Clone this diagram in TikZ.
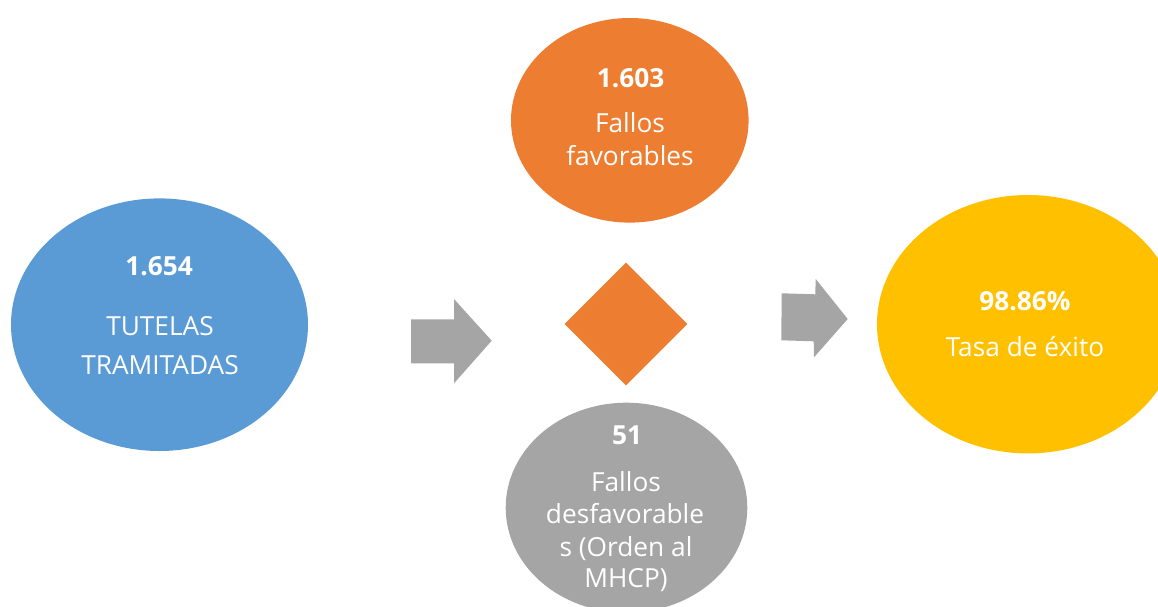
\documentclass[tikz,border=0pt]{standalone}
\usepackage{fontspec}
\setmainfont{Open Sans}
\usetikzlibrary{shapes.geometric}
\definecolor{cblue}{HTML}{5B9BD5}
\definecolor{corange}{HTML}{ED7D31}
\definecolor{cgray}{HTML}{A5A5A5}
\definecolor{cyellow}{HTML}{FFC000}
\tikzset{
  blob/.style={ellipse, inner sep=0pt, draw=none},
  lbl/.style={anchor=base, text=white, inner sep=0pt, font=\fontsize{19.7}{24}\selectfont},
  num/.style={lbl, font=\fontsize{19.7}{24}\selectfont\bfseries},
  blockarrow/.style={fill=cgray, draw=none}
}
\begin{document}
\begin{tikzpicture}[x=0.75pt, y=-0.75pt]
\useasboundingbox (0,0) rectangle (1158,607);
% ellipses
\node[blob, fill=cblue, minimum width=222.75pt, minimum height=189.45pt] (tut) at (159.5,324.7) {};
\node[blob, fill=corange, minimum width=178.2pt, minimum height=153.45pt] (fav) at (629.8,120.3) {};
\node[blob, fill=cgray, minimum width=181.2pt, minimum height=157.5pt] (des) at (626.5,507.7) {};
\node[blob, fill=cyellow, minimum width=226.5pt, minimum height=193.8pt] (tasa) at (1028,324.2) {};
% diamond
\node[diamond, fill=corange, inner sep=0pt, minimum width=92.25pt, minimum height=92.25pt] (dia) at (626,324) {};
% block arrows
\fill[blockarrow] (411,319.3) -- (454,319.3) -- (454,299) -- (491.7,340.7) -- (454,383.3) -- (454,363.3) -- (411,363.3) -- cycle;
\fill[blockarrow] (781.7,293.3) -- (815.3,294.3) -- (815.7,279) -- (847.7,319) -- (814,357.3) -- (813.7,341.3) -- (781.3,340.3) -- cycle;
% texts
\node[num] (t1) at (159,275) {1.654};
\node[lbl] (t2) at (160,335.7) {TUTELAS};
\node[lbl] (t3) at (160,374) {TRAMITADAS};
\node[num] (f1) at (630.5,87.3) {1.603};
\node[lbl] (f2) at (630,132.7) {Fallos};
\node[lbl] (f3) at (630,165) {favorables};
\node[num] (d1) at (627,444) {51};
\node[lbl] (d2) at (626,491.7) {Fallos};
\node[lbl] (d3) at (625,523.3) {desfavorable};
\node[lbl] (d4) at (626,556) {s (Orden al};
\node[lbl] (d5) at (626,587.3) {MHCP)};
\node[num] (y1) at (1025,310) {98.86\%};
\node[lbl] (y2) at (1025,356) {Tasa de éxito};
\end{tikzpicture}
\end{document}
